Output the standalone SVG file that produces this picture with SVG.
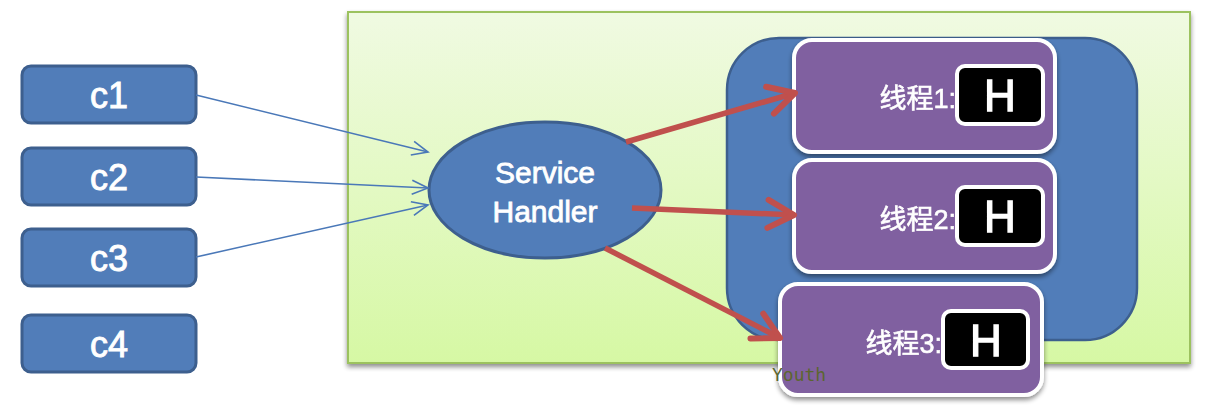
<svg xmlns="http://www.w3.org/2000/svg" width="1216" height="407" viewBox="0 0 1216 407">
<defs>
<linearGradient id="gg" x1="0" y1="0" x2="0" y2="1">
<stop offset="0" stop-color="#f0fae2"/>
<stop offset="1" stop-color="#d6f8a4"/>
</linearGradient>
<filter id="sh" x="-10%" y="-10%" width="130%" height="130%">
<feGaussianBlur in="SourceAlpha" stdDeviation="2.5"/>
<feOffset dx="0" dy="3" result="b"/>
<feComponentTransfer><feFuncA type="linear" slope="0.45"/></feComponentTransfer>
<feMerge><feMergeNode/><feMergeNode in="SourceGraphic"/></feMerge>
</filter>
<marker id="ba" viewBox="0 0 20 20" refX="18" refY="10" markerWidth="20" markerHeight="20" markerUnits="userSpaceOnUse" orient="auto">
<path d="M2,3 L18,10 L2,17" fill="none" stroke="#4a78b8" stroke-width="1.6"/>
</marker>
<marker id="ra" viewBox="0 0 36 36" refX="31" refY="18" markerWidth="36" markerHeight="36" markerUnits="userSpaceOnUse" orient="auto">
<path d="M5,4 L31,18 L5,32" fill="none" stroke="#c0504d" stroke-width="6" stroke-linecap="round" stroke-linejoin="round"/>
</marker>
</defs>
<style>
.client rect{fill:#517db9;stroke:#3d5f8e;stroke-width:3}
.client text{fill:#fff;stroke:#fff;stroke-width:0.9;font-family:"Liberation Sans",Arial,sans-serif;font-size:36px;text-anchor:middle}
.thread>rect.t{fill:#8061a0;stroke:#fff;stroke-width:4}
.thread rect.h{fill:#000;stroke:#fff;stroke-width:4}
.thread text.l{fill:#fff;stroke:#fff;stroke-width:0.6;font-family:"Liberation Sans","Noto Sans CJK SC",sans-serif;font-size:27px;text-anchor:end}
.thread text.hh{fill:#fff;stroke:#fff;stroke-width:1.3;font-family:"Liberation Sans",Arial,sans-serif;font-size:44px;text-anchor:middle}
.blue{stroke:#4a78b8;stroke-width:1.6;fill:none}
.red{stroke:#c0504d;stroke-width:5.5;fill:none}
.hd{fill:#fff;stroke:#fff;stroke-width:0.8;font-family:"Liberation Sans",Arial,sans-serif;font-size:30px;text-anchor:middle}
</style>
<g id="container">
<rect x="348" y="12" width="842" height="351" fill="url(#gg)" stroke="#9cc25e" stroke-width="2" filter="url(#sh)"/>
</g>
<g id="pool">
<rect x="727" y="38" width="410" height="302" rx="52" fill="#517db9" stroke="#3d5f8e" stroke-width="2.5"/>
</g>
<g id="c1" class="client"><rect x="22" y="66" width="174" height="57" rx="9"/><text x="109" y="108">c1</text></g>
<g id="c2" class="client"><rect x="22" y="148" width="174" height="57" rx="9"/><text x="109" y="190">c2</text></g>
<g id="c3" class="client"><rect x="22" y="229" width="174" height="57" rx="9"/><text x="109" y="271">c3</text></g>
<g id="c4" class="client"><rect x="22" y="315" width="174" height="57" rx="9"/><text x="109" y="357">c4</text></g>
<g id="handler">
<ellipse cx="545" cy="190" rx="116" ry="68" fill="#517db9" stroke="#3d5f8e" stroke-width="3"/>
<text class="hd" x="545" y="183">Service</text>
<text class="hd" x="545" y="222">Handler</text>
</g>
<g id="t1" class="thread" filter="url(#sh)">
<rect class="t" x="794" y="40" width="261" height="112" rx="18"/>
<text class="l" x="956" y="108">线程1:</text>
<rect class="h" x="957" y="66" width="86" height="58" rx="8"/>
<text class="hh" x="1000" y="111">H</text>
</g>
<g id="t2" class="thread" filter="url(#sh)">
<rect class="t" x="794" y="160" width="261" height="112" rx="18"/>
<text class="l" x="956" y="229">线程2:</text>
<rect class="h" x="957" y="187" width="86" height="58" rx="8"/>
<text class="hh" x="1000" y="232">H</text>
</g>
<g id="t3" class="thread" filter="url(#sh)">
<rect class="t" x="780" y="284" width="262" height="111" rx="18"/>
<text class="l" x="942" y="353">线程3:</text>
<rect class="h" x="943" y="311" width="85" height="57" rx="8"/>
<text class="hh" x="986" y="356">H</text>
</g>
<g id="watermark">
<text x="772" y="381" fill="#5c6630" font-family="'DejaVu Sans Mono',monospace" font-size="18">Youth</text>
</g>
<g id="connectors">
<line class="blue" x1="196" y1="95" x2="428" y2="152" marker-end="url(#ba)"/>
<line class="blue" x1="196" y1="177" x2="428" y2="188" marker-end="url(#ba)"/>
<line class="blue" x1="196" y1="257" x2="428" y2="205" marker-end="url(#ba)"/>
<line class="red" x1="626" y1="142" x2="795" y2="93" marker-end="url(#ra)"/>
<line class="red" x1="632" y1="208" x2="794" y2="215" marker-end="url(#ra)"/>
<line class="red" x1="605" y1="248" x2="780" y2="338" marker-end="url(#ra)"/>
</g>
</svg>
